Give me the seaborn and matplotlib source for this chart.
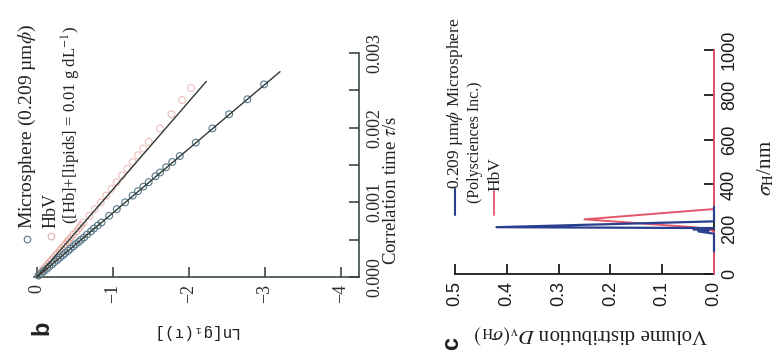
import matplotlib
matplotlib.use("Agg")
import matplotlib.pyplot as plt
import seaborn as sns
import pandas as pd
from matplotlib.lines import Line2D
from matplotlib.ticker import FixedLocator, MultipleLocator

# ---------------- data (panel b): Ln[g1(tau)] vs correlation time ----------------
tau_micro = [0.00002, 0.00005, 0.00008, 0.00011, 0.00014, 0.00017, 0.00020, 0.00023,
             0.00026, 0.00029, 0.00032, 0.00035, 0.00038, 0.00041, 0.00044, 0.00047,
             0.00050, 0.00053, 0.00057, 0.00061, 0.00065, 0.00069, 0.00073, 0.00082,
             0.00091, 0.00100, 0.00109, 0.00115, 0.00121, 0.00127, 0.00135, 0.00140,
             0.00147, 0.00154, 0.00162, 0.00180, 0.00199, 0.00218, 0.00238, 0.00258]
lng_micro = [-0.02, -0.06, -0.09, -0.13, -0.16, -0.20, -0.23, -0.27,
             -0.30, -0.34, -0.37, -0.41, -0.44, -0.48, -0.51, -0.55,
             -0.58, -0.62, -0.66, -0.71, -0.75, -0.80, -0.85, -0.95,
             -1.05, -1.16, -1.26, -1.33, -1.40, -1.47, -1.56, -1.62,
             -1.70, -1.78, -1.88, -2.09, -2.31, -2.53, -2.77, -2.99]
tau_hbv = [0.00002, 0.00005, 0.00008, 0.00011, 0.00014, 0.00017, 0.00020, 0.00023,
           0.00026, 0.00029, 0.00032, 0.00035, 0.00038, 0.00041, 0.00044, 0.00047,
           0.00050, 0.00053, 0.00057, 0.00061, 0.00065, 0.00069, 0.00073, 0.00082,
           0.00091, 0.00100, 0.00109, 0.00118, 0.00127, 0.00136, 0.00145, 0.00154,
           0.00163, 0.00172, 0.00181, 0.00199, 0.00218, 0.00237, 0.00253]
lng_hbv = [-0.02, -0.04, -0.07, -0.09, -0.12, -0.14, -0.17, -0.19,
           -0.22, -0.25, -0.27, -0.30, -0.32, -0.35, -0.37, -0.40,
           -0.42, -0.45, -0.48, -0.52, -0.55, -0.58, -0.61, -0.69,
           -0.76, -0.84, -0.91, -0.98, -1.05, -1.12, -1.19, -1.26,
           -1.33, -1.40, -1.47, -1.62, -1.77, -1.91, -2.03]
fit_tau_micro = [0.0, 0.00275]
fit_lng_micro = [0.0, -3.20]
fit_tau_hbv = [0.0, 0.00262]
fit_lng_hbv = [0.0, -2.23]
lng_ticks = [0, -1, -2, -3, -4]
lng_ticklabels = ["0", "\u22121", "\u22122", "\u22123", "\u22124"]
tau_ticks = [0.000, 0.001, 0.002, 0.003]
tau_ticklabels = ["0.000", "0.001", "0.002", "0.003"]

# ---------------- data (panel c): volume distribution vs sigma_H ----------------
sigma_ms = [100, 180, 190, 195, 200, 205, 209, 235, 260, 300]
dv_ms = [0.0, 0.0, 0.03, 0.01, 0.04, 0.0, 0.42, 0.0, 0.0, 0.0]
sigma_hbv = [0, 150, 190, 200, 209, 244, 290, 400, 600, 800, 1000]
dv_hbv = [0.0, 0.0, 0.0, 0.01, 0.04, 0.25, 0.0, 0.0, 0.0, 0.0, 0.0]
dv_ticks = [0.0, 0.1, 0.2, 0.3, 0.4, 0.5]
dv_ticklabels = ["0.0", "0.1", "0.2", "0.3", "0.4", "0.5"]
sigma_ticks = [0, 200, 400, 600, 800, 1000]
sigma_ticklabels = ["0", "200", "400", "600", "800", "1000"]

# ---------------- style ----------------
sns.set_theme(style="white")
plt.rcParams["font.family"] = ["Liberation Serif", "DejaVu Serif"]
plt.rcParams["mathtext.fontset"] = "stix"

C_MS_PT = "#56788a"
C_HBV_PT = "#d67468"
C_FIT = "#2f3a34"
C_AX_B = "#2e3c34"
C_BLUE = "#2b3f8f"
C_RED = "#e2566a"
SANS = ["Liberation Sans", "DejaVu Sans"]

W, H = 777, 364
fig = plt.figure(figsize=(W / 100, H / 100), dpi=100)
fig.patch.set_facecolor("white")


def fx(px):
    return px / W


def fy(py):
    return 1 - py / H


# ================= panel b =================
ax_b = fig.add_axes([fx(34), fy(277), fx(359) - fx(34), fy(53) - fy(277)])
df_ms = pd.DataFrame({"lng": lng_micro, "tau": tau_micro})
df_hb = pd.DataFrame({"lng": lng_hbv, "tau": tau_hbv})
sns.scatterplot(data=df_hb, x="lng", y="tau", ax=ax_b, marker="o", s=24,
                facecolor="none", edgecolor=C_HBV_PT, linewidth=0.8, alpha=0.45,
                clip_on=False, zorder=2)
sns.scatterplot(data=df_ms, x="lng", y="tau", ax=ax_b, marker="o", s=24,
                facecolor="none", edgecolor=C_MS_PT, linewidth=0.8,
                clip_on=False, zorder=3)
sns.lineplot(x=fit_lng_micro, y=fit_tau_micro, ax=ax_b, sort=False, estimator=None,
             color=C_FIT, linewidth=1.0, zorder=4)
sns.lineplot(x=fit_lng_hbv, y=fit_tau_hbv, ax=ax_b, sort=False, estimator=None,
             color=C_FIT, linewidth=1.0, zorder=4)
ax_b.set_xlim(0.04, -4.24)
ax_b.set_ylim(0, 0.003)
ax_b.set_xlabel("")
ax_b.set_ylabel("")
for s in ("left", "top"):
    ax_b.spines[s].set_visible(False)
for s in ("bottom", "right"):
    ax_b.spines[s].set_color(C_AX_B)
    ax_b.spines[s].set_linewidth(1.1)
ax_b.yaxis.tick_right()
ax_b.xaxis.set_major_locator(FixedLocator(lng_ticks))
ax_b.set_xticklabels(lng_ticklabels, rotation=90)
ax_b.yaxis.set_major_locator(FixedLocator(tau_ticks))
ax_b.yaxis.set_minor_locator(MultipleLocator(0.0005))
ax_b.set_yticklabels(tau_ticklabels, rotation=90, va="center")
ax_b.tick_params(axis="both", which="both", direction="in", length=7, width=1.1,
                 color=C_AX_B, labelsize=13, labelcolor="#2a2a2a", pad=5)
ax_b.tick_params(axis="x", bottom=True)
ax_b.tick_params(axis="y", right=True, left=False, which="both")
ax_b.patch.set_alpha(0)

# legend of panel b (drawn rotated, as in the reference)
fig.add_artist(Line2D([fx(27)], [fy(239)], marker="o", ms=4.8, mfc="none",
                      mec=C_MS_PT, mew=0.8, transform=fig.transFigure))
fig.add_artist(Line2D([fx(51)], [fy(236)], marker="o", ms=4.8, mfc="none",
                      mec="#d9b0b0", mew=0.8, transform=fig.transFigure))
fig.text(fx(27), fy(229), "Microsphere (0.209 \u00b5m$\\phi$)", rotation=90,
         ha="center", va="bottom", fontsize=14, color="#222222")
fig.text(fx(51), fy(228), "HbV", rotation=90, ha="center", va="bottom",
         fontsize=13, color="#222222")
fig.text(fx(71), fy(224), "([Hb]+[lipids] = 0.01 g dL$^{-1}$)", rotation=90,
         ha="center", va="bottom", fontsize=12, color="#222222")

fig.text(fx(42), fy(328), "b", rotation=90, ha="center", va="center",
         fontsize=17, fontweight="bold", family=SANS, color="#222222")
fig.text(fx(195), fy(331), "Ln[g\u2081(\u03c4)]", rotation=180, ha="center",
         va="center", fontsize=11.5, family=["Liberation Mono", "DejaVu Sans Mono"],
         color="#222222")
fig.text(fx(392), fy(190), "Correlation time $\\tau$/s", rotation=90, ha="center",
         va="center", fontsize=13.5, color="#222222")

# ================= panel c =================
ax_c = fig.add_axes([fx(455), fy(274), fx(714) - fx(455), fy(50) - fy(274)])
sns.lineplot(x=dv_hbv, y=sigma_hbv, ax=ax_c, sort=False, estimator=None,
             color=C_RED, linewidth=1.4, clip_on=False, zorder=3)
sns.lineplot(x=dv_ms, y=sigma_ms, ax=ax_c, sort=False, estimator=None,
             color=C_BLUE, linewidth=1.6, clip_on=False, zorder=4)
ax_c.set_xlim(0.5, 0.0)
ax_c.set_ylim(0, 1000)
ax_c.set_xlabel("")
ax_c.set_ylabel("")
for s in ("left", "top"):
    ax_c.spines[s].set_visible(False)
for s in ("bottom", "right"):
    ax_c.spines[s].set_color("#1a1a1a")
    ax_c.spines[s].set_linewidth(1.3)
ax_c.yaxis.tick_right()
ax_c.xaxis.set_major_locator(FixedLocator(dv_ticks))
ax_c.set_xticklabels(dv_ticklabels, rotation=90, family=SANS)
ax_c.yaxis.set_major_locator(FixedLocator(sigma_ticks))
ax_c.set_yticklabels(sigma_ticklabels, rotation=90, va="center", family=SANS)
ax_c.tick_params(axis="both", which="both", direction="in", length=7, width=1.3,
                 color="#1a1a1a", labelsize=13, labelcolor="#1a1a1a", pad=5)
ax_c.tick_params(axis="x", bottom=True)
ax_c.tick_params(axis="y", right=True, left=False)
ax_c.patch.set_alpha(0)

# legend of panel c
fig.add_artist(Line2D([fx(455), fx(455)], [fy(215), fy(189)], color=C_BLUE,
                      lw=1.5, transform=fig.transFigure))
fig.add_artist(Line2D([fx(494), fx(494)], [fy(215), fy(191)], color=C_RED,
                      lw=1.3, transform=fig.transFigure))
fig.text(fx(455), fy(189), "0.209 \u00b5m$\\phi$ Microsphere", rotation=90,
         ha="center", va="bottom", fontsize=12.5, color="#1f1f1f")
fig.text(fx(475), fy(203), "(Polysciences Inc.)", rotation=90, ha="center",
         va="bottom", fontsize=11.5, color="#1f1f1f")
fig.text(fx(495), fy(191), "HbV", rotation=90, ha="center", va="bottom",
         fontsize=12.5, color="#1f1f1f")

fig.text(fx(452), fy(343), "c", rotation=90, ha="center", va="center",
         fontsize=17, fontweight="bold", family=SANS, color="#1f1f1f")
fig.text(fx(591), fy(334), "Volume distribution $D_\\mathrm{v}(\\sigma_\\mathrm{H})$",
         rotation=180, ha="center", va="center", fontsize=15, color="#1f1f1f")
fig.text(fx(766), fy(168), "$\\sigma_\\mathrm{H}$/nm", rotation=90, ha="center",
         va="center", fontsize=15, color="#1f1f1f")

fig.savefig("out.png", dpi=100, facecolor="white")
